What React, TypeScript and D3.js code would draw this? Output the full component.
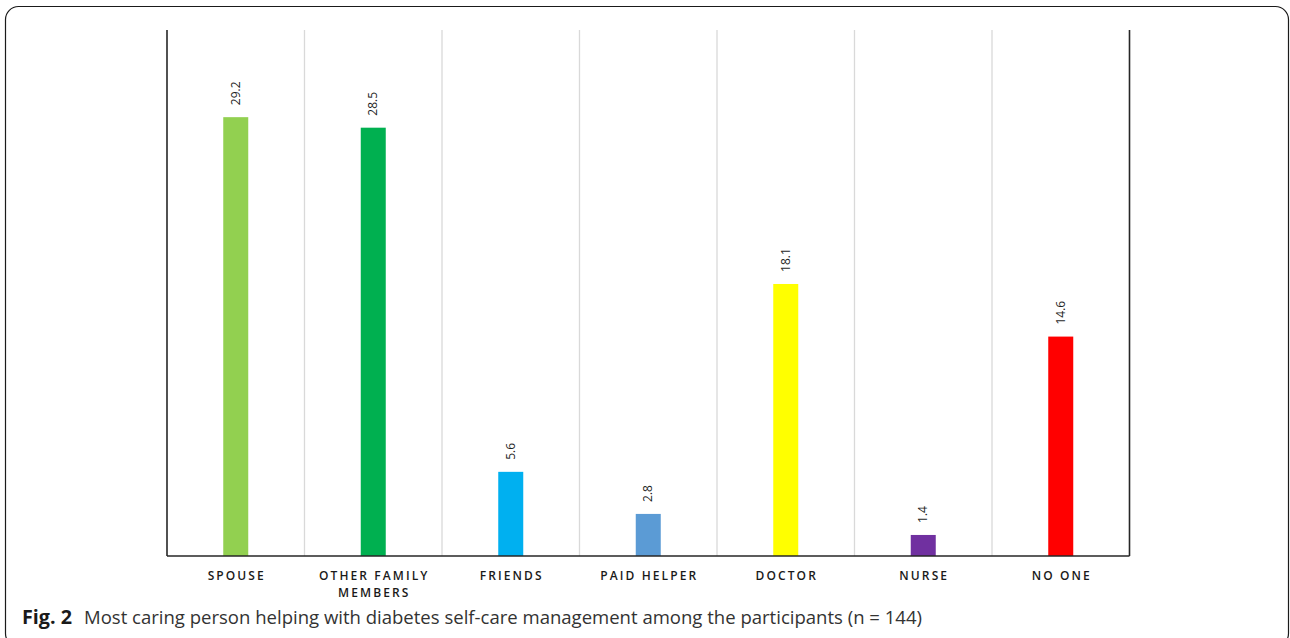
import React from "react";
import * as d3 from "d3";

const categories = ["SPOUSE", "OTHER FAMILY MEMBERS", "FRIENDS", "PAID HELPER", "DOCTOR", "NURSE", "NO ONE"];
const categoryLines = [["SPOUSE"], ["OTHER FAMILY", "MEMBERS"], ["FRIENDS"], ["PAID HELPER"], ["DOCTOR"], ["NURSE"], ["NO ONE"]];
const values = [29.2, 28.5, 5.6, 2.8, 18.1, 1.4, 14.6];
const colors = ["#92d050", "#00b050", "#00b0f0", "#5b9bd5", "#ffff00", "#7030a0", "#ff0000"];
const valueLabels = ["29.2", "28.5", "5.6", "2.8", "18.1", "1.4", "14.6"];
const captionBold = "Fig. 2";
const captionText = "Most caring person helping with diabetes self-care management among the participants (n = 144)";

const W = 1290;
const H = 638;
const left = 167;
const right = 1129.5;
const top = 30;
const bottom = 556;

export default function App() {
  const x = d3.scaleBand<string>().domain(categories).range([left, right]).padding(0);
  const y = d3.scaleLinear().domain([0, 35]).range([bottom, top]);
  const bw = x.bandwidth();
  const barW = 25;
  const font = "'Open Sans', 'Noto Sans', sans-serif";

  return (
    <div style={{ position: "absolute", left: 0, top: 0 }}>
      <svg width={W} height={H} style={{ display: "block", background: "#fff" }}>
        <rect x={5.5} y={6.5} width={1283} height={640} rx={13} fill="none" stroke="#1a1a1a" strokeWidth={1.2} />
        {categories.slice(1).map((c) => (
          <line key={"g" + c} x1={x(c)!} x2={x(c)!} y1={top} y2={bottom} stroke="#d9d9d9" strokeWidth={1.3} />
        ))}
        {categories.map((c, i) => {
          const cx = x(c)! + bw / 2;
          const yt = y(values[i]);
          return (
            <g key={c}>
              <rect x={cx - barW / 2} y={yt} width={barW} height={bottom - yt} fill={colors[i]} />
              <text
                transform={`translate(${cx},${yt - 12}) rotate(-90)`}
                dy="0.35em"
                fontFamily={font}
                fontSize={12}
                fill="#1f1f1f"
              >
                {valueLabels[i]}
              </text>
              <text
                x={cx}
                y={580}
                textAnchor="middle"
                fontFamily={font}
                fontSize={12}
                fontWeight={600}
                letterSpacing={2.1}
                fill="#1a1a1a"
              >
                {categoryLines[i].map((t, j) => (
                  <tspan key={j} x={cx + 1} dy={j === 0 ? 0 : 17}>
                    {t}
                  </tspan>
                ))}
              </text>
            </g>
          );
        })}
        <line x1={left} x2={left} y1={top} y2={bottom} stroke="#262626" strokeWidth={1.6} />
        <line x1={right} x2={right} y1={top} y2={bottom} stroke="#262626" strokeWidth={1.6} />
        <line x1={left} x2={right} y1={bottom} y2={bottom} stroke="#262626" strokeWidth={1.6} />
        <text x={22} y={624} fontFamily={font} fontSize={19} fontWeight={700} fill="#1a1a1a" textLength={50} lengthAdjust="spacingAndGlyphs">
          {captionBold}
        </text>
        <text x={84} y={624} fontFamily={font} fontSize={19} fill="#333" textLength={838} lengthAdjust="spacingAndGlyphs">
          {captionText}
        </text>
      </svg>
    </div>
  );
}
